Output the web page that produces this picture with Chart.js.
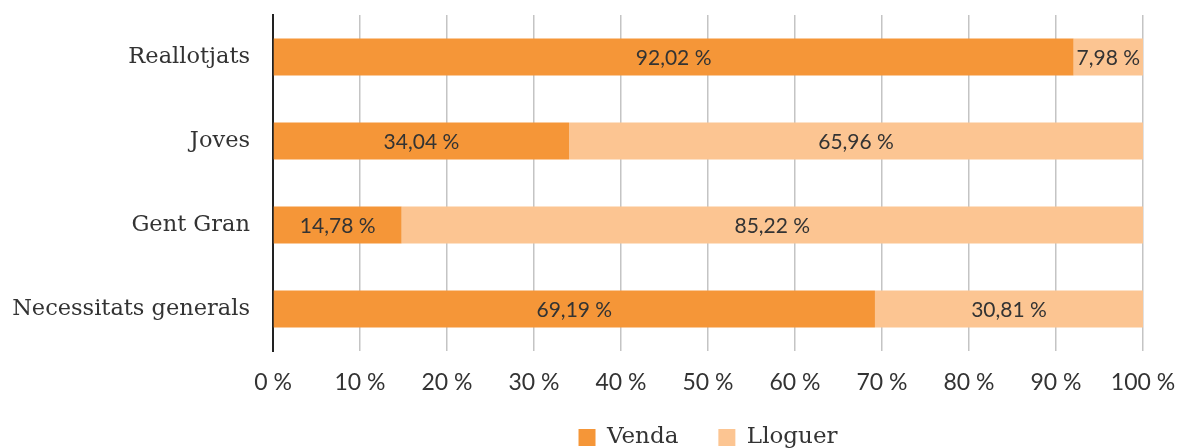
<!DOCTYPE html>
<html>
<head>
<meta charset="utf-8">
<script src="https://cdn.jsdelivr.net/npm/chart.js@4"></script>
<style>
  html, body { margin: 0; padding: 0; background: #fff; overflow: hidden; }
  #wrap { position: relative; width: 1178px; height: 459px; }
</style>
</head>
<body>
<div id="wrap"><canvas id="chart"></canvas></div>
<script>
// Data
const categories = ['Reallotjats', 'Joves', 'Gent Gran', 'Necessitats generals'];
const venda = [92.02, 34.04, 14.78, 69.19];
const lloguer = [7.98, 65.96, 85.22, 30.81];
const xTicks = [0, 10, 20, 30, 40, 50, 60, 70, 80, 90, 100];

const orange = '#F59638';
const lightOrange = '#FCC592';
const textColor = '#333333';

function fmt(v) {
  return v.toFixed(2).replace('.', ',') + ' %';
}

// draws the value in the middle of each bar segment
const barLabels = {
  id: 'barLabels',
  afterDatasetsDraw(chart) {
    const ctx = chart.ctx;
    ctx.save();
    ctx.font = '21px Lato';
    ctx.fillStyle = textColor;
    ctx.textAlign = 'center';
    ctx.textBaseline = 'middle';
    chart.data.datasets.forEach((ds, i) => {
      const meta = chart.getDatasetMeta(i);
      meta.data.forEach((bar, j) => {
        const p = bar.getCenterPoint();
        ctx.fillText(fmt(ds.data[j]), p.x, p.y + 1);
      });
    });
    ctx.restore();
  }
};

const ctx = document.getElementById('chart').getContext('2d');
new Chart(ctx, {
  type: 'bar',
  data: {
    labels: categories,
    datasets: [
      { label: 'Venda', data: venda, backgroundColor: orange, barPercentage: 0.44, categoryPercentage: 1 },
      { label: 'Lloguer', data: lloguer, backgroundColor: lightOrange, barPercentage: 0.44, categoryPercentage: 1 }
    ]
  },
  options: {
    indexAxis: 'y',
    responsive: true,
    maintainAspectRatio: false,
    animation: false,
    layout: { padding: { top: 15, right: 35, left: 0, bottom: 0 } },
    scales: {
      x: {
        stacked: true,
        min: 0,
        max: 100,
        afterBuildTicks: scale => { scale.ticks = xTicks.map(v => ({ value: v })); },
        afterFit: scale => {
          scale.height = 35;
          scale.paddingLeft = 0;
          scale.paddingRight = 0;
          // labels hang a bit below the (short) axis box, don't clip them
          scale._computeLabelArea = () => undefined;
        },
        grid: { color: '#c4c4c4', lineWidth: 1.5, drawTicks: false },
        border: { display: false },
        ticks: {
          padding: 18,
          color: textColor,
          font: { family: 'Lato', size: 23 },
          callback: v => v + ' %'
        }
      },
      y: {
        stacked: true,
        afterFit: scale => {
          scale.width = 273;
          scale.paddingTop = 0;
          scale.paddingBottom = 0;
        },
        grid: { display: false, drawTicks: false },
        border: { display: true, color: '#222', width: 2 },
        ticks: {
          padding: 23,
          color: textColor,
          font: { family: 'DejaVu Serif', size: 22.5 }
        }
      }
    },
    plugins: {
      legend: {
        position: 'bottom',
        fullSize: false,
        labels: {
          boxWidth: 17,
          boxHeight: 17,
          padding: 40,
          color: textColor,
          font: { family: 'DejaVu Serif', size: 23 }
        }
      },
      tooltip: { enabled: false }
    }
  },
  plugins: [barLabels]
});
</script>
</body>
</html>
